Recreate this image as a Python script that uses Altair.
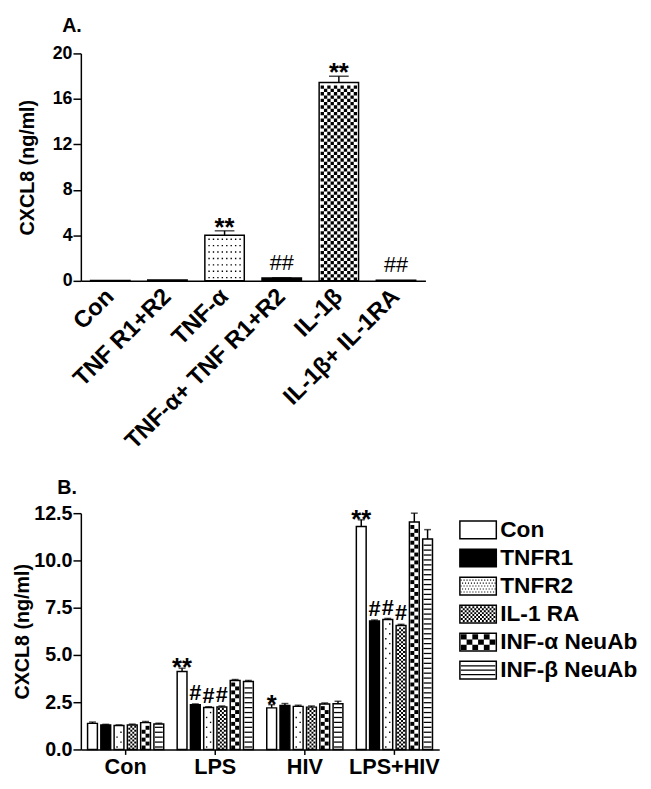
import altair as alt
import pandas as pd

FONT = "Liberation Sans"

# ---------------- Panel A data ----------------
a_categories = ["Con", "TNF R1+R2", "TNF-α", "TNF-α+ TNF R1+R2", "IL-1β", "IL-1β+ IL-1RA"]
a_values = [0.04, 0.08, 4.0, 0.25, 17.45, 0.05]
a_errors = [0.0, 0.0, 0.4, 0.02, 0.55, 0.0]
a_signif = ["", "", "**", "##", "**", "##"]

# ---------------- Panel B data ----------------
b_groups = ["Con", "LPS", "HIV", "LPS+HIV"]
b_series = ["Con", "TNFR1", "TNFR2", "IL-1 RA", "INF-α NeuAb", "INF-β NeuAb"]

b_con = [1.38, 4.13, 2.20, 11.80]
b_tnfr1 = [1.30, 2.36, 2.33, 6.80]
b_tnfr2 = [1.27, 2.22, 2.28, 6.88]
b_il1ra = [1.30, 2.25, 2.24, 6.56]
b_infa = [1.42, 3.65, 2.40, 12.03]
b_infb = [1.35, 3.60, 2.42, 11.13]

e_con = [0.07, 0.17, 0.17, 0.35]
e_tnfr1 = [0.03, 0.05, 0.10, 0.05]
e_tnfr2 = [0.03, 0.04, 0.06, 0.05]
e_il1ra = [0.04, 0.05, 0.06, 0.06]
e_infa = [0.06, 0.05, 0.06, 0.47]
e_infb = [0.04, 0.05, 0.13, 0.50]

s_con = ["", "**", "*", "**"]
s_tnfr1 = ["", "#", "", "#"]
s_tnfr2 = ["", "#", "", "#"]
s_il1ra = ["", "#", "", "#"]
s_infa = ["", "", "", ""]
s_infb = ["", "", "", ""]

dfA = pd.DataFrame({"cat": a_categories, "value": a_values, "err": a_errors, "sig": a_signif})

rows = []
for s, vals, errs, sigs in zip(
    b_series,
    [b_con, b_tnfr1, b_tnfr2, b_il1ra, b_infa, b_infb],
    [e_con, e_tnfr1, e_tnfr2, e_il1ra, e_infa, e_infb],
    [s_con, s_tnfr1, s_tnfr2, s_il1ra, s_infa, s_infb],
):
    for g, v, e, m in zip(b_groups, vals, errs, sigs):
        rows.append({"group": g, "series": s, "value": v, "err": e, "sig": m})
dfB = pd.DataFrame(rows)
dfL = pd.DataFrame({"series": b_series})

# ---------------- pattern helpers (style only) ----------------
def rect(x0, y0, x1, y1, half):
    return "M{:.4f},{:.4f}H{:.4f}V{:.4f}H{:.4f}Z".format(x0 / half, y0 / half, x1 / half, y1 / half, x0 / half)


def row_path(spec, phase, inner, half, yc=0.0):
    kind = spec["kind"]
    parts = []
    if kind == "dots":
        sx, d, st = spec["sx"], spec["d"], spec["stagger"]
        n = int((inner - d) // sx) + 1
        shift = -st / 2 if phase == 0 else st / 2
        for i in range(n):
            x = -(n - 1) * sx / 2 + i * sx + shift
            parts.append(rect(x - d / 2, yc - d / 2, x + d / 2, yc + d / 2, half))
    elif kind == "checker":
        n = max(1, round(inner / spec["c"]))
        c = inner / n
        h = spec["r"]
        for i in range(n):
            if (i + phase) % 2 == 0:
                parts.append(rect(-inner / 2 + i * c, yc - h / 2, -inner / 2 + (i + 1) * c, yc + h / 2, half))
    else:  # stripes
        t = spec["t"]
        parts.append(rect(-inner / 2, yc - t / 2, inner / 2, yc + t / 2, half))
    return " ".join(parts)


def n_phases(spec):
    return 1 if spec["kind"] == "stripes" else 2


def swatch_path(spec, box, inner_w, inner_h):
    half = box / 2
    r = spec["r"]
    nrows = int(inner_h // r)
    y0 = -nrows * r / 2
    parts = []
    for k in range(nrows):
        parts.append(row_path(spec, k % n_phases(spec), inner_w, half, y0 + (k + 0.5) * r))
    return " ".join(parts)


def pattern_layers(df, key_field, key, spec, ppu, box, inner, enc):
    nph = n_phases(spec)
    r = spec["r"]
    out = []
    for ph in range(nph):
        path = row_path(spec, ph, inner, box / 2)
        lyr = (
            alt.Chart(df)
            .transform_filter(alt.FieldEqualPredicate(field=key_field, equal=key))
            .transform_calculate(k="sequence(0, floor(datum.value * %f / %f))" % (ppu, r))
            .transform_flatten(["k"])
            .transform_filter("datum.k %% %d == %d" % (nph, ph))
            .transform_calculate(yk="(datum.k + 0.5) * %f" % (r / ppu))
            .mark_point(shape=path, size=box * box, filled=True, opacity=1, color="black", strokeWidth=0)
            .encode(**enc("yk"))
        )
        out.append(lyr)
    return out


# ---------------- Panel A ----------------
W_A, H_A = 350, 231
ppuA = H_A / 20.0
xA_scale = alt.Scale(domain=a_categories, paddingInner=0.31, paddingOuter=0.17)
yA_scale = alt.Scale(domain=[0, 20], nice=False)
fillA_scale = alt.Scale(domain=a_categories, range=["white", "white", "white", "black", "white", "white"])
axis_xA = alt.Axis(title=None, labelAngle=315, labelFontSize=24, ticks=False, tickSize=0,
                   labelAlign="right", labelBaseline="middle",
                   labelPadding=12, labelLimit=0, labelOverlap=False)
axis_yA = alt.Axis(title="CXCL8 (ng/ml)", values=[0, 4, 8, 12, 16, 20], tickSize=8, labelFontSize=18,
                   labelPadding=1, titleFontSize=20, titlePadding=15)


def encA(yf):
    return dict(x=alt.X("cat:N", scale=xA_scale, axis=axis_xA),
                y=alt.Y(yf + ":Q", scale=yA_scale, axis=axis_yA))


baseA = alt.Chart(dfA)
barsA = baseA.mark_bar(stroke="black", strokeWidth=1.5).encode(
    fill=alt.Fill("cat:N", scale=fillA_scale, legend=None), **encA("value"))
patA = []
patA += pattern_layers(dfA, "cat", "TNF-α", {"kind": "dots", "r": 6.5, "sx": 4.5, "d": 1.4, "stagger": 0},
                       ppuA, 40, 37, encA)
patA += pattern_layers(dfA, "cat", "IL-1β", {"kind": "checker", "r": 37 / 11, "c": 37 / 11},
                       ppuA, 40, 37, encA)
topA = baseA.transform_filter("datum.err > 0").transform_calculate(top="datum.value + datum.err")
errA = topA.mark_rule(color="black", strokeWidth=1.5).encode(
    x=alt.X("cat:N", scale=xA_scale, axis=axis_xA),
    y=alt.Y("value:Q", scale=yA_scale, axis=axis_yA), y2="top:Q")
capA = topA.mark_tick(color="black", thickness=1.5, size=20).encode(**encA("top"))
sigA = baseA.transform_calculate(top="datum.value + datum.err")
starA = sigA.transform_filter("indexof(datum.sig, '*') >= 0").mark_text(
    font=FONT, fontSize=26, fontWeight="bold", baseline="alphabetic", dy=5, color="black"
).encode(text="sig:N", **encA("top"))
hashA = sigA.transform_filter("indexof(datum.sig, '#') >= 0").mark_text(
    font=FONT, fontSize=22, fontWeight="normal", baseline="alphabetic", dy=-8, color="black"
).encode(text="sig:N", **encA("top"))

chartA = alt.layer(barsA, *patA, errA, capA, starA, hashA).properties(
    width=W_A, height=H_A,
    title=alt.TitleParams("A.", anchor="start", frame="group", dx=-19, fontSize=20, offset=9),
)

# ---------------- Panel B ----------------
W_B, H_B = 364, 240
ppuB = H_B / 12.5
xB_scale = alt.Scale(domain=b_groups, paddingInner=0.15, paddingOuter=0.075)
offB_scale = alt.Scale(domain=b_series, paddingInner=0.26, paddingOuter=0)
yB_scale = alt.Scale(domain=[0, 12.5], nice=False)
fill_scale = alt.Scale(domain=b_series, range=["white", "black", "white", "white", "white", "white"])
axis_xB = alt.Axis(title=None, labelAngle=0, labelFontSize=22, tickSize=5, labelPadding=2)
axis_yB = alt.Axis(title="CXCL8 (ng/ml)", values=[0, 2.5, 5, 7.5, 10, 12.5], format=".1f", tickSize=8,
                   labelFontSize=20, labelPadding=1, titleFontSize=20, titlePadding=1)


def encB(yf):
    return dict(x=alt.X("group:N", scale=xB_scale, axis=axis_xB),
                xOffset=alt.XOffset("series:N", scale=offB_scale),
                y=alt.Y(yf + ":Q", scale=yB_scale, axis=axis_yB))


baseB = alt.Chart(dfB)
barsB = baseB.mark_bar(stroke="black", strokeWidth=1.5).encode(
    fill=alt.Fill("series:N", scale=fill_scale, legend=None), **encB("value"))

specB = {
    "TNFR2": {"kind": "dots", "r": 5, "sx": 20, "d": 1.4, "stagger": 4},
    "IL-1 RA": {"kind": "checker", "r": 2, "c": 2},
    "INF-α NeuAb": {"kind": "checker", "r": 4, "c": 4},
    "INF-β NeuAb": {"kind": "stripes", "r": 5, "t": 1.3},
}
patB = []
for s, sp in specB.items():
    patB += pattern_layers(dfB, "series", s, sp, ppuB, 10, 8, encB)

topB = baseB.transform_calculate(top="datum.value + datum.err")
errB = topB.mark_rule(color="black", strokeWidth=1.5).encode(
    x=alt.X("group:N", scale=xB_scale, axis=axis_xB),
    xOffset=alt.XOffset("series:N", scale=offB_scale),
    y=alt.Y("value:Q", scale=yB_scale, axis=axis_yB), y2="top:Q")
capB = topB.mark_tick(color="black", thickness=1.5, size=7).encode(**encB("top"))
starB = topB.transform_filter("indexof(datum.sig, '*') >= 0").mark_text(
    font=FONT, fontSize=26, fontWeight="bold", baseline="alphabetic", dy=8, color="black"
).encode(text="sig:N", **encB("top"))
hashB = topB.transform_filter("indexof(datum.sig, '#') >= 0").mark_text(
    font=FONT, fontSize=22, fontWeight="bold", baseline="alphabetic", dy=-4, color="black"
).encode(text="sig:N", **encB("top"))

mainB = alt.layer(barsB, *patB, errB, capB, starB, hashB)

# legend (drawn from the series list)
specL = {
    "TNFR2": {"kind": "dots", "r": 3, "sx": 3, "d": 1.1, "stagger": 1.5},
    "IL-1 RA": {"kind": "checker", "r": 2, "c": 2},
    "INF-α NeuAb": {"kind": "checker", "r": 16 / 3, "c": 35 / 6},
    "INF-β NeuAb": {"kind": "stripes", "r": 4.5, "t": 1.3},
}
leg_keys = list(specL.keys())
leg_paths = [swatch_path(specL[k], 37, 35, 16.5) for k in leg_keys]
yL_scale = alt.Scale(domain=b_series, paddingInner=0.368, paddingOuter=0, range=[8, 168.5])
baseL = alt.Chart(dfL)
swatch = baseL.mark_rect(stroke="black", strokeWidth=1.5).encode(
    x=alt.value(385), x2=alt.value(422),
    y=alt.Y("series:N", scale=yL_scale, axis=None),
    fill=alt.Fill("series:N", scale=fill_scale, legend=None))
swatch_pat = baseL.transform_filter(alt.FieldOneOfPredicate(field="series", oneOf=leg_keys)).mark_point(
    size=37 * 37, filled=True, opacity=1, color="black", strokeWidth=0
).encode(
    x=alt.value(403.5),
    y=alt.Y("series:N", scale=yL_scale, axis=None),
    shape=alt.Shape("series:N", scale=alt.Scale(domain=leg_keys, range=leg_paths), legend=None))
swatch_txt = baseL.mark_text(font=FONT, fontSize=23, fontWeight="bold", align="left", baseline="middle",
                             color="black").encode(
    x=alt.value(426), y=alt.Y("series:N", scale=yL_scale, axis=None), text="series:N")
legendB = alt.layer(swatch, swatch_pat, swatch_txt)

chartB = alt.layer(mainB, legendB).resolve_scale(y="independent").properties(
    width=W_B, height=H_B,
    title=alt.TitleParams("B.", anchor="start", frame="group", dx=-24, fontSize=20, offset=5),
)

chart = (
    alt.vconcat(chartA, chartB, spacing=25)
    .resolve_scale(fill="independent")
    .properties(padding={"left": 5, "top": 2, "right": 5, "bottom": 5})
    .configure_view(stroke=None)
    .configure_axis(labelFont=FONT, titleFont=FONT, labelColor="black", titleColor="black",
                    domainColor="black", tickColor="black", domainWidth=1.5, tickWidth=1.5,
                    labelFontWeight="bold", titleFontWeight="bold", grid=False)
    .configure_title(font=FONT, fontWeight="bold", color="black")
)

chart.save("out.html", embed_options={"renderer": "svg", "actions": False})
